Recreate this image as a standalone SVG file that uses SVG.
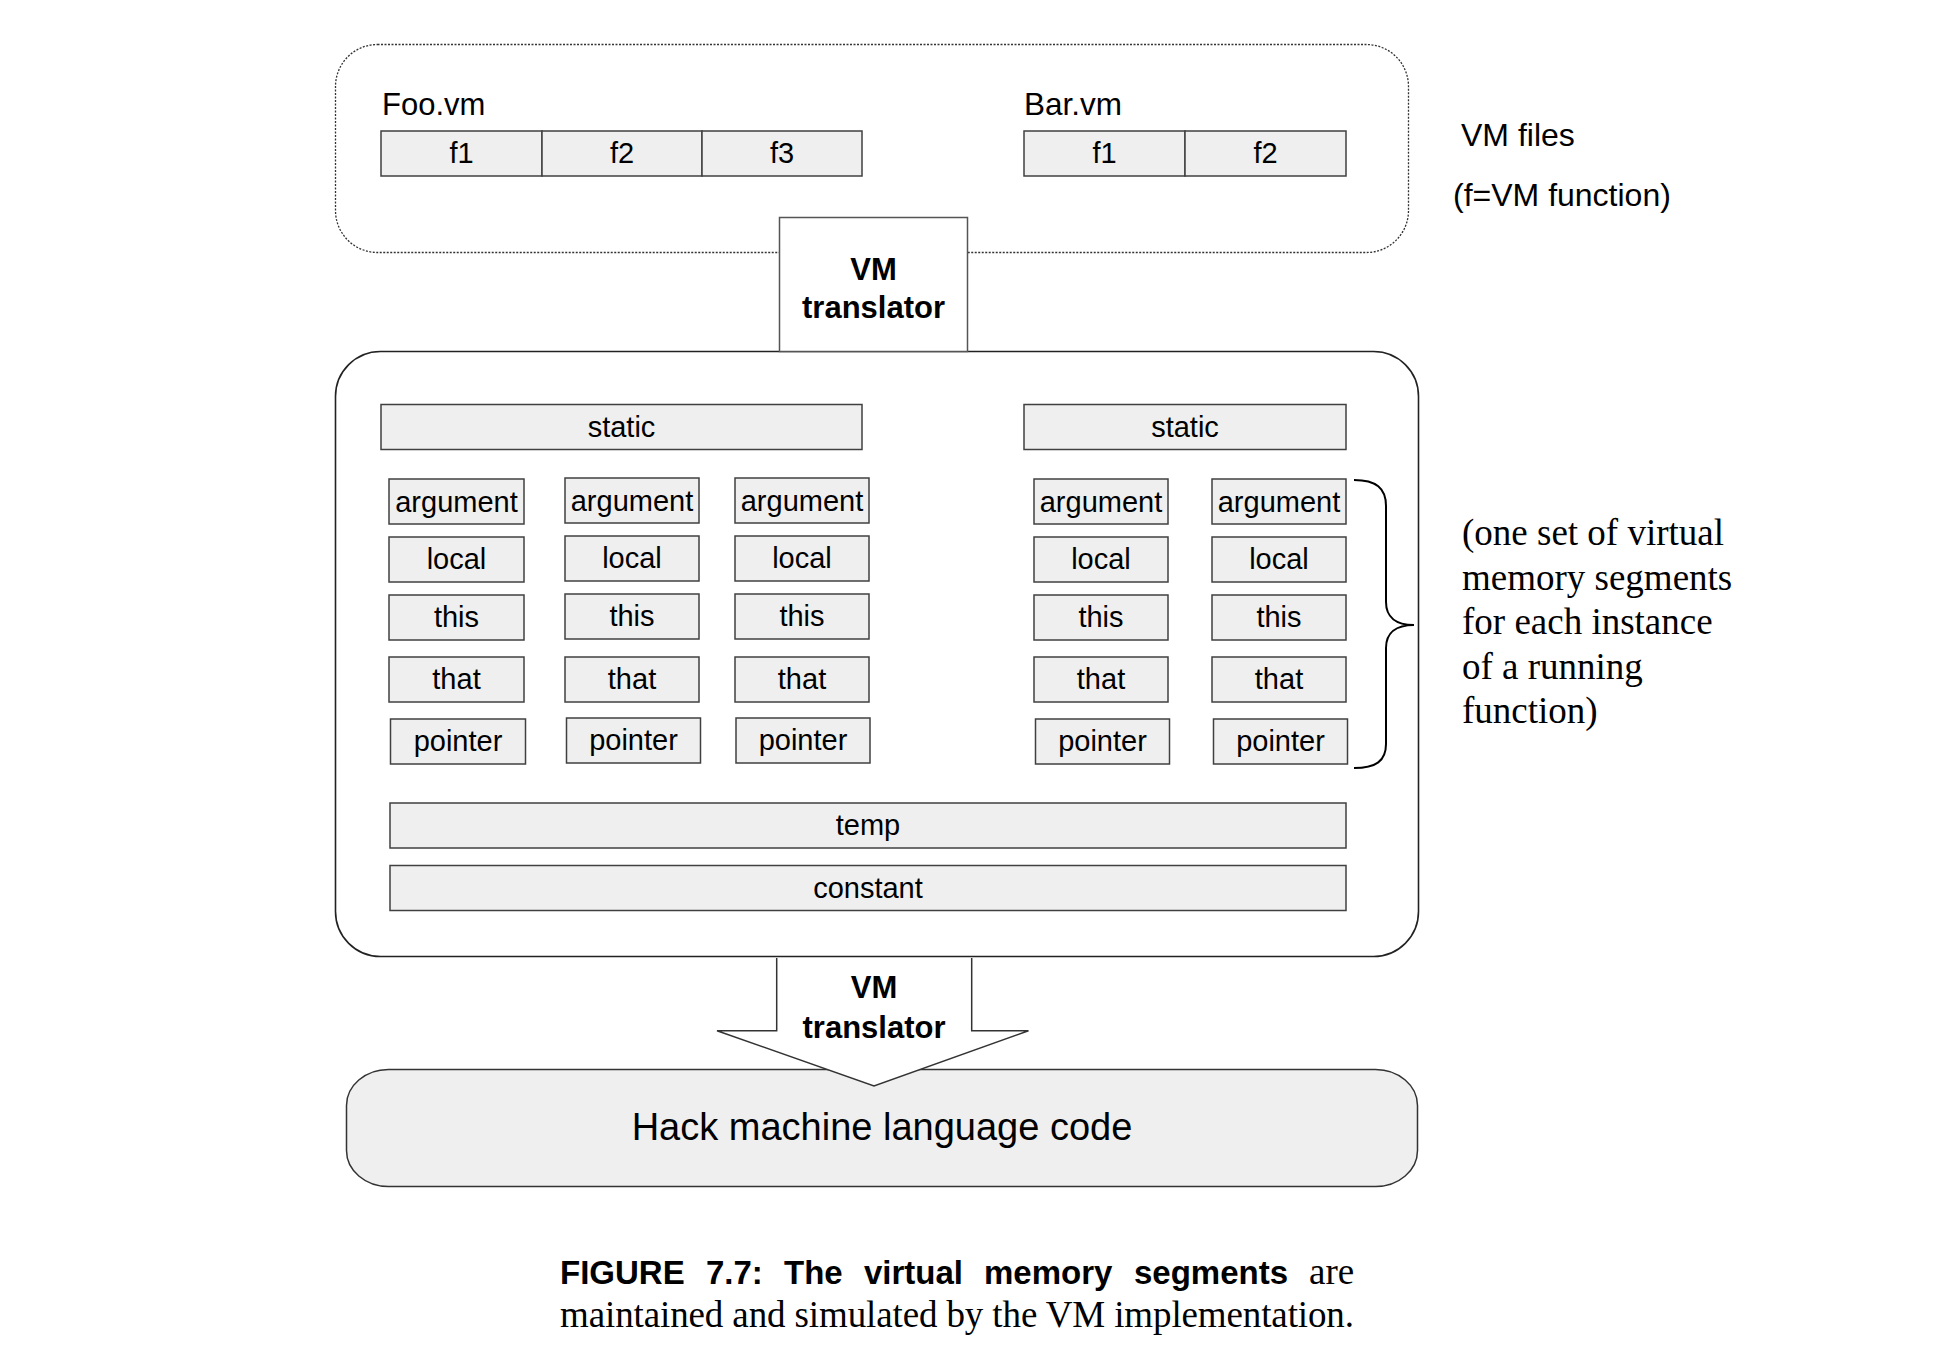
<svg xmlns="http://www.w3.org/2000/svg" width="1960" height="1354" viewBox="0 0 1960 1354">
<style>
.seg{fill:#efefef;stroke:#404040;stroke-width:1.5}
.lbl{font-family:"Liberation Sans",Arial,sans-serif;font-size:29px;fill:#000;text-anchor:middle}
.bold{font-family:"Liberation Sans",Arial,sans-serif;font-weight:bold;font-size:31px;fill:#000;text-anchor:middle}
.sans{font-family:"Liberation Sans",Arial,sans-serif;fill:#000}
.serif{font-family:"Liberation Serif","Times New Roman",serif;fill:#000}
</style>
<rect width="1960" height="1354" fill="#fff"/>

<g id="vm-files">
<rect x="335.5" y="44.5" width="1073" height="208" rx="42" ry="42" fill="#fff" stroke="#333" stroke-width="1.3" stroke-dasharray="2,1.5"/>
<text class="sans" x="382" y="115" font-size="31">Foo.vm</text>
<text class="sans" x="1024" y="115" font-size="31.5">Bar.vm</text>
</g>
<g id="foo-f1"><rect class="seg" x="381" y="131" width="161" height="45"/><text class="lbl" x="461.5" y="163">f1</text></g>
<g id="foo-f2"><rect class="seg" x="542" y="131" width="160" height="45"/><text class="lbl" x="622" y="163">f2</text></g>
<g id="foo-f3"><rect class="seg" x="702" y="131" width="160" height="45"/><text class="lbl" x="782" y="163">f3</text></g>
<g id="bar-f1"><rect class="seg" x="1024" y="131" width="161" height="45"/><text class="lbl" x="1104.5" y="163">f1</text></g>
<g id="bar-f2"><rect class="seg" x="1185" y="131" width="161" height="45"/><text class="lbl" x="1265.5" y="163">f2</text></g>

<g id="notes">
<text class="sans" x="1461" y="146" font-size="32">VM files</text>
<text class="sans" x="1453" y="206" font-size="32">(f=VM function)</text>
<text class="serif" font-size="37"><tspan x="1462" y="545">(one set of virtual</tspan><tspan x="1462" y="590">memory segments</tspan><tspan x="1462" y="634">for each instance</tspan><tspan x="1462" y="679">of a running</tspan><tspan x="1462" y="723">function)</tspan></text>
</g>

<g id="hack">
<rect x="346.5" y="1069.5" width="1071" height="117" rx="42" ry="36" fill="#efefef" stroke="#333" stroke-width="1.5"/>
<text class="sans" x="882" y="1140" font-size="38" text-anchor="middle">Hack machine language code</text>
</g>

<g id="connectors">
<path d="M776.7,958 L776.7,1030.7 L717,1030.7 L874,1086 L1028.5,1030.7 L971.7,1030.7 L971.7,958" fill="#fff" stroke="#333" stroke-width="1.5" stroke-linejoin="miter"/>
<path d="M1354,480 C1376,480 1386,488 1386,506 L1386,602 C1386,617 1396,625 1414,625 C1396,625 1386,633 1386,648 L1386,744 C1386,761 1376,768 1354,768" fill="none" stroke="#000" stroke-width="2"/>
</g>

<g id="memory">
<rect x="335.5" y="351.5" width="1083" height="605" rx="45" ry="45" fill="none" stroke="#222" stroke-width="1.6"/>
</g>

<g id="translator-top">
<rect x="779.5" y="217.5" width="188" height="134" fill="#fff" stroke="#555" stroke-width="1.5"/>
<text class="bold" x="873.5" y="280">VM</text>
<text class="bold" x="873.5" y="317.5">translator</text>
</g>
<g id="translator-bottom">
<text class="bold" x="874" y="998">VM</text>
<text class="bold" x="874" y="1037.5">translator</text>
</g>

<g id="static-foo"><rect class="seg" x="381" y="404.5" width="481" height="45"/><text class="lbl" x="621.5" y="436.5">static</text></g>
<g id="static-bar"><rect class="seg" x="1024" y="404.5" width="322" height="45"/><text class="lbl" x="1185" y="436.5">static</text></g>

<g id="c1-argument"><rect class="seg" x="389" y="479" width="135" height="45"/><text class="lbl" x="456.5" y="511.5">argument</text></g>
<g id="c1-local"><rect class="seg" x="389" y="537" width="135" height="45"/><text class="lbl" x="456.5" y="569">local</text></g>
<g id="c1-this"><rect class="seg" x="389" y="595" width="135" height="45"/><text class="lbl" x="456.5" y="627">this</text></g>
<g id="c1-that"><rect class="seg" x="389" y="657" width="135" height="45"/><text class="lbl" x="456.5" y="689">that</text></g>
<g id="c1-pointer"><rect class="seg" x="390.5" y="719" width="135" height="45"/><text class="lbl" x="458" y="751">pointer</text></g>

<g id="c2-argument"><rect class="seg" x="565" y="478" width="134" height="45"/><text class="lbl" x="632" y="510.5">argument</text></g>
<g id="c2-local"><rect class="seg" x="565" y="536" width="134" height="45"/><text class="lbl" x="632" y="568">local</text></g>
<g id="c2-this"><rect class="seg" x="565" y="594" width="134" height="45"/><text class="lbl" x="632" y="626">this</text></g>
<g id="c2-that"><rect class="seg" x="565" y="657" width="134" height="45"/><text class="lbl" x="632" y="689">that</text></g>
<g id="c2-pointer"><rect class="seg" x="566.5" y="718" width="134" height="45"/><text class="lbl" x="633.5" y="750">pointer</text></g>

<g id="c3-argument"><rect class="seg" x="735" y="478" width="134" height="45"/><text class="lbl" x="802" y="510.5">argument</text></g>
<g id="c3-local"><rect class="seg" x="735" y="536" width="134" height="45"/><text class="lbl" x="802" y="568">local</text></g>
<g id="c3-this"><rect class="seg" x="735" y="594" width="134" height="45"/><text class="lbl" x="802" y="626">this</text></g>
<g id="c3-that"><rect class="seg" x="735" y="657" width="134" height="45"/><text class="lbl" x="802" y="689">that</text></g>
<g id="c3-pointer"><rect class="seg" x="736" y="718" width="134" height="45"/><text class="lbl" x="803" y="750">pointer</text></g>

<g id="c4-argument"><rect class="seg" x="1034" y="479" width="134" height="45"/><text class="lbl" x="1101" y="511.5">argument</text></g>
<g id="c4-local"><rect class="seg" x="1034" y="537" width="134" height="45"/><text class="lbl" x="1101" y="569">local</text></g>
<g id="c4-this"><rect class="seg" x="1034" y="595" width="134" height="45"/><text class="lbl" x="1101" y="627">this</text></g>
<g id="c4-that"><rect class="seg" x="1034" y="657" width="134" height="45"/><text class="lbl" x="1101" y="689">that</text></g>
<g id="c4-pointer"><rect class="seg" x="1035.5" y="719" width="134" height="45"/><text class="lbl" x="1102.5" y="751">pointer</text></g>

<g id="c5-argument"><rect class="seg" x="1212" y="479" width="134" height="45"/><text class="lbl" x="1279" y="511.5">argument</text></g>
<g id="c5-local"><rect class="seg" x="1212" y="537" width="134" height="45"/><text class="lbl" x="1279" y="569">local</text></g>
<g id="c5-this"><rect class="seg" x="1212" y="595" width="134" height="45"/><text class="lbl" x="1279" y="627">this</text></g>
<g id="c5-that"><rect class="seg" x="1212" y="657" width="134" height="45"/><text class="lbl" x="1279" y="689">that</text></g>
<g id="c5-pointer"><rect class="seg" x="1213.5" y="719" width="134" height="45"/><text class="lbl" x="1280.5" y="751">pointer</text></g>

<g id="temp"><rect class="seg" x="390" y="803" width="956" height="45"/><text class="lbl" x="868" y="834.5">temp</text></g>
<g id="constant"><rect class="seg" x="390" y="865.5" width="956" height="45"/><text class="lbl" x="868" y="897.5">constant</text></g>

<g id="caption">
<text class="sans" font-weight="bold" font-size="33" y="1284"><tspan x="560">FIGURE</tspan><tspan x="706">7.7:</tspan><tspan x="784">The</tspan><tspan x="864">virtual</tspan><tspan x="984">memory</tspan><tspan x="1134">segments</tspan></text>
<text class="serif" font-size="37" x="1309" y="1284">are</text>
<text class="serif" font-size="37" x="560" y="1327" textLength="794" lengthAdjust="spacing">maintained and simulated by the VM implementation.</text>
</g>
</svg>
